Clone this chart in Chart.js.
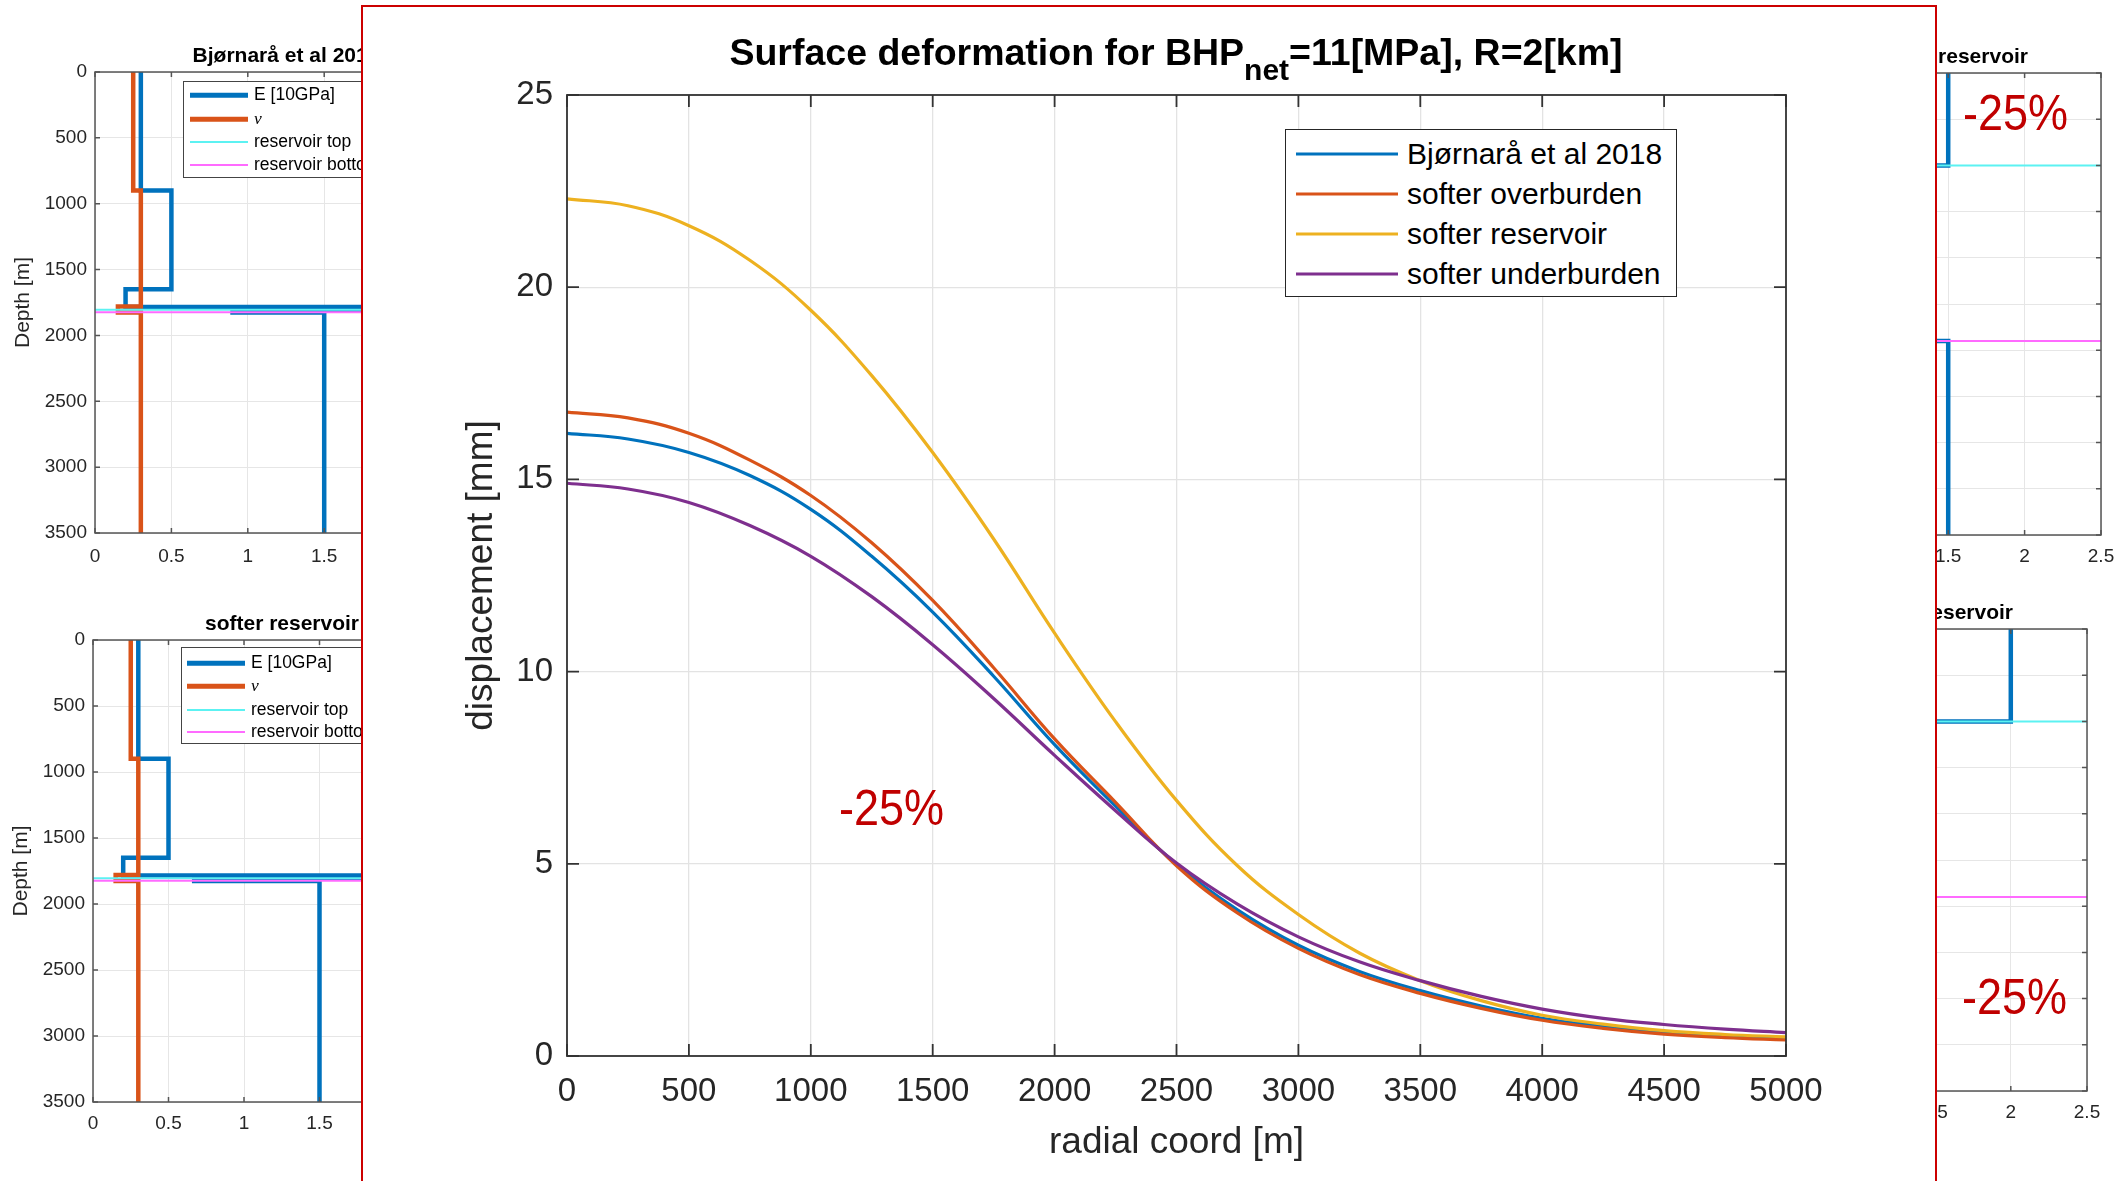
<!DOCTYPE html>
<html>
<head>
<meta charset="utf-8">
<script src="https://cdn.jsdelivr.net/npm/chart.js@4.4.1/dist/chart.umd.min.js"></script>
<style>
html,body{margin:0;padding:0;background:#fff;}
body{width:2128px;height:1181px;position:relative;overflow:hidden;font-family:'Liberation Sans',Arial,Helvetica,sans-serif;}
canvas{display:block;position:absolute;}
.txt{position:absolute;white-space:nowrap;line-height:1;}
.sideTitle{font-weight:bold;font-size:21px;color:#000;}
.sideLegend{position:absolute;background:#fff;border:1.5px solid #444;box-sizing:border-box;}
.row{position:absolute;left:0;height:0;}
.row .smp{position:absolute;transform:translateY(-50%);}
.row .lab{position:absolute;transform:translateY(-50%);white-space:nowrap;line-height:1;color:#000;}
.pct{position:absolute;color:#C00000;font-size:50px;line-height:1;white-space:nowrap;transform:scaleX(0.9);transform-origin:left top;}
#mainBox{position:absolute;left:361px;top:5px;width:1576px;height:1200px;box-sizing:border-box;border:2px solid #CC0000;border-bottom:none;background:#fff;}
#mainTitle{position:absolute;top:34px;left:1176px;transform:translateX(-50%);font-weight:bold;font-size:37.5px;line-height:1;white-space:nowrap;color:#000;}
#mainLegend{position:absolute;left:1285px;top:129px;width:392px;height:168px;background:#fff;border:1.5px solid #262626;box-sizing:border-box;}
</style>
</head>
<body>
<!-- background side charts -->
<canvas id="cTL" width="520" height="540" style="left:0;top:40px"></canvas>
<canvas id="cBL" width="520" height="581" style="left:0;top:600px"></canvas>
<canvas id="cTR" width="478" height="540" style="left:1650px;top:40px"></canvas>
<canvas id="cBR" width="488" height="591" style="left:1640px;top:590px"></canvas>

<div class="txt sideTitle" style="left:286px;top:44px;transform:translateX(-50%)">Bjørnarå et al 2018</div>
<div class="txt sideTitle" style="left:282px;top:612px;transform:translateX(-50%)">softer reservoir</div>
<div class="txt sideTitle" style="right:100px;top:45px">thicker reservoir</div>
<div class="txt sideTitle" style="right:115px;top:601px">softer thicker reservoir</div>

<div id="legTL" class="sideLegend" style="left:183px;top:81px;width:215px;height:97px"></div>
<div id="legBL" class="sideLegend" style="left:181px;top:647px;width:215px;height:97px"></div>

<div class="pct" style="left:1963px;top:88px">-25%</div>
<div class="pct" style="left:1962px;top:972px">-25%</div>

<!-- main chart -->
<div id="mainBox"></div>
<canvas id="cMain" width="1576" height="1176" style="left:361px;top:5px"></canvas>
<div id="mainTitle">Surface deformation for BHP<span style="font-size:30px;position:relative;top:15px">net</span>=11[MPa], R=2[km]</div>
<div id="mainLegend"></div>
<div class="pct" style="left:839px;top:783px">-25%</div>

<script>
// ---------------- main chart data ----------------
const radialCoord = [0,250,500,750,1000,1250,1500,1750,2000,2250,2500,2750,3000,3250,3500,3750,4000,4250,4500,4750,5000];
const bjornara2018     = [16.2,16.05,15.7,15.1,14.22,13.0,11.55,9.88,8.1,6.5,4.98,3.8,2.88,2.2,1.7,1.3,0.98,0.77,0.61,0.52,0.46];
const softerOverburden = [16.75,16.6,16.2,15.5,14.58,13.35,11.85,10.1,8.25,6.6,4.95,3.72,2.8,2.12,1.63,1.24,0.93,0.72,0.57,0.48,0.42];
const softerReservoir  = [22.3,22.12,21.6,20.7,19.4,17.7,15.7,13.45,11.0,8.7,6.65,4.95,3.68,2.68,1.96,1.44,1.06,0.83,0.66,0.56,0.5];
const softerUnderburden= [14.9,14.75,14.4,13.8,13.0,11.95,10.7,9.3,7.82,6.38,5.02,3.95,3.1,2.45,1.96,1.55,1.22,0.98,0.82,0.7,0.61];
const seriesNames  = ['Bjørnarå et al 2018','softer overburden','softer reservoir','softer underburden'];
const seriesColors = ['#0072BD','#D95319','#EDB120','#7E2F8E'];
const mainXTicks = [0,500,1000,1500,2000,2500,3000,3500,4000,4500,5000];
const mainYTicks = [0,5,10,15,20,25];

// ---------------- side chart data ----------------
const eTicks = [0,0.5,1,1.5,2,2.5];
const depthTicks = [0,500,1000,1500,2000,2500,3000,3500];
const zoomDepthTicks = [1795,1800,1805,1810,1815,1820,1825,1830,1835,1840,1845];
const reservoirTop = 1805;
const reservoirBottom = 1824;
// Bjørnarå et al 2018 profile
const baseEDepth  = [0,900,900,1650,1650,1785,1785,1805,1805,1826,1826,3500];
const baseE       = [0.3,0.3,0.5,0.5,0.2,0.2,3.0,3.0,0.9,0.9,1.5,1.5];
const baseNuDepth = [0,900,900,1780,1780,1826,1826,3500];
const baseNu      = [0.25,0.25,0.3,0.3,0.15,0.15,0.3,0.3];
// softer reservoir profile
const softResEDepth = [0,900,900,1650,1650,1785,1785,1805,1805,1826,1826,3500];
const softResE      = [0.3,0.3,0.5,0.5,0.2,0.2,3.0,3.0,0.67,0.67,1.5,1.5];
// zoomed profiles (right column)
const zoomEDepth  = [1795,1805,1805,1824,1824,1845];
const zoomTRE     = [1.5,1.5,0.9,0.9,1.5,1.5];
const zoomBRE     = [2.0,2.0,0.67,0.67,1.2,1.2];
const zoomNuDepth = [1795,1805,1805,1824,1824,1845];
const zoomNu      = [0.3,0.3,0.15,0.15,0.3,0.3];
const sideLegendNames = ['E [10GPa]','ν','reservoir top','reservoir bottom'];
const sideColors = ['#0072BD','#D95319','#5CF2F2','#FF6BFF'];

const FONT = "'Liberation Sans', Arial, Helvetica, sans-serif";
const AXC = '#262626';

// box + inward ticks (MATLAB style)
const boxTicks = {
  id: 'boxTicks',
  afterDatasetsDraw(chart, args, o) {
    const {ctx, chartArea: a} = chart;
    const x = chart.scales.x, y = chart.scales.y;
    const L = o.len || 8;
    ctx.save();
    ctx.strokeStyle = o.color || AXC;
    ctx.lineWidth = o.width || 1.5;
    ctx.beginPath();
    x.ticks.forEach(t => {
      const p = x.getPixelForValue(t.value);
      ctx.moveTo(p, a.bottom); ctx.lineTo(p, a.bottom - L);
      ctx.moveTo(p, a.top); ctx.lineTo(p, a.top + L);
    });
    y.ticks.forEach(t => {
      const p = y.getPixelForValue(t.value);
      ctx.moveTo(a.left, p); ctx.lineTo(a.left + L, p);
      ctx.moveTo(a.right, p); ctx.lineTo(a.right - L, p);
    });
    ctx.stroke();
    ctx.strokeRect(a.left, a.top, a.right - a.left, a.bottom - a.top);
    ctx.restore();
  }
};

function pts(xs, ys) { return xs.map((v, i) => ({x: v, y: ys[i]})); }
function setTicks(arr) { return s => { s.ticks = arr.map(v => ({value: v})); }; }

// ---------------- main chart ----------------
const mainSeries = [bjornara2018, softerOverburden, softerReservoir, softerUnderburden];
new Chart(document.getElementById('cMain'), {
  type: 'line',
  data: {
    datasets: mainSeries.map((s, i) => ({
      label: seriesNames[i],
      data: pts(radialCoord, s),
      borderColor: seriesColors[i],
      borderWidth: 3.2,
      pointRadius: 0,
      fill: false,
      tension: 0.4,
      order: 4 - i
    }))
  },
  options: {
    responsive: false, animation: false, devicePixelRatio: 1,
    layout: {padding: {top: 90, right: 151, bottom: 0, left: 0}},
    plugins: {legend: {display: false}, tooltip: {enabled: false}, boxTicks: {len: 12, color: '#333', width: 1.8}},
    scales: {
      x: {
        type: 'linear', min: 0, max: 5000,
        afterBuildTicks: setTicks(mainXTicks),
        afterFit: s => { s.height = 125; s.paddingLeft = 0; s.paddingRight = 0; },
        grid: {color: '#e3e3e3', lineWidth: 1.3, drawTicks: false},
        border: {display: false},
        ticks: {font: {family: FONT, size: 33}, color: AXC, padding: 16, maxRotation: 0, autoSkip: false, callback: v => String(v)},
        title: {display: true, text: 'radial coord [m]', font: {family: FONT, size: 37}, color: AXC, padding: {top: 0, bottom: 16}}
      },
      y: {
        type: 'linear', min: 0, max: 25,
        afterBuildTicks: setTicks(mainYTicks),
        afterFit: s => { s.width = 206; s.paddingTop = 0; s.paddingBottom = 0; },
        grid: {color: '#e3e3e3', lineWidth: 1.3, drawTicks: false},
        border: {display: false},
        ticks: {font: {family: FONT, size: 33}, color: AXC, padding: 14, autoSkip: false, callback: v => String(v)},
        title: {display: true, text: 'displacement [mm]', font: {family: FONT, size: 37}, color: AXC, padding: {top: 99, bottom: 0}}
      }
    }
  },
  plugins: [boxTicks]
});

// main legend (HTML, from the series arrays)
(function(){
  const leg = document.getElementById('mainLegend');
  const rowsY = [24, 64, 104, 144];
  seriesNames.forEach((n, i) => {
    const r = document.createElement('div');
    r.className = 'row'; r.style.top = rowsY[i] + 'px';
    r.innerHTML = '<div class="smp" style="left:10px;width:102px;height:3px;background:' + seriesColors[i] + '"></div>' +
                  '<div class="lab" style="left:121px;font-size:30px;color:#000">' + n + '</div>';
    leg.appendChild(r);
  });
})();

// ---------------- side charts ----------------
function sideChart(id, cfg) {
  const ds = [
    {data: pts(cfg.eX, cfg.eY), borderColor: sideColors[0], borderWidth: 4.5, order: 4},
    {data: pts(cfg.nuX, cfg.nuY), borderColor: sideColors[1], borderWidth: 4.5, order: 3},
    {data: pts([0, 2.5], [reservoirTop, reservoirTop]), borderColor: sideColors[2], borderWidth: 2, order: 2},
    {data: pts([0, 2.5], [reservoirBottom, reservoirBottom]), borderColor: sideColors[3], borderWidth: 2, order: 1}
  ].map(d => Object.assign(d, {showLine: true, pointRadius: 0, fill: false, tension: 0, borderJoinStyle: 'miter', borderCapStyle: 'butt'}));
  new Chart(document.getElementById(id), {
    type: 'scatter',
    data: {datasets: ds},
    options: {
      responsive: false, animation: false, devicePixelRatio: 1,
      layout: {padding: {top: cfg.padTop, right: cfg.padRight, bottom: 0, left: 0}},
      plugins: {legend: {display: false}, tooltip: {enabled: false}, boxTicks: {len: 5, color: '#555', width: 1.5}},
      scales: {
        x: {
          type: 'linear', min: 0, max: 2.5,
          afterBuildTicks: setTicks(eTicks),
          afterFit: s => { s.height = cfg.xH; s.paddingLeft = 0; s.paddingRight = 0; },
          grid: {color: '#e6e6e6', lineWidth: 1, drawTicks: false},
          border: {display: false},
          ticks: {font: {family: FONT, size: 19}, color: AXC, padding: cfg.xPad, maxRotation: 0, autoSkip: false, callback: v => String(v)}
        },
        y: {
          type: 'linear', min: cfg.yMin, max: cfg.yMax, reverse: true,
          afterBuildTicks: setTicks(cfg.yTicks),
          afterFit: s => { s.width = cfg.yW; s.paddingTop = 0; s.paddingBottom = 0; },
          grid: {color: '#e6e6e6', lineWidth: 1, drawTicks: false},
          border: {display: false},
          ticks: {font: {family: FONT, size: 19}, color: AXC, padding: 8, autoSkip: false, callback: v => String(v)},
          title: {display: true, text: 'Depth [m]', font: {family: FONT, size: 21}, color: AXC, padding: {top: cfg.tPad, bottom: 0}}
        }
      }
    },
    plugins: [boxTicks]
  });
}

sideChart('cTL', {eX: baseE, eY: baseEDepth, nuX: baseNu, nuY: baseNuDepth, yMin: 0, yMax: 3500, yTicks: depthTicks,
  padTop: 32, padRight: 43, xH: 47, yW: 95, xPad: 12, tPad: 11});
sideChart('cBL', {eX: softResE, eY: softResEDepth, nuX: baseNu, nuY: baseNuDepth, yMin: 0, yMax: 3500, yTicks: depthTicks,
  padTop: 40, padRight: 49.5, xH: 79, yW: 93, xPad: 10, tPad: 9});
sideChart('cTR', {eX: zoomTRE, eY: zoomEDepth, nuX: zoomNu, nuY: zoomNuDepth, yMin: 1795, yMax: 1845, yTicks: zoomDepthTicks,
  padTop: 33, padRight: 27, xH: 45, yW: 69, xPad: 10, tPad: 2});
sideChart('cBR', {eX: zoomBRE, eY: zoomEDepth, nuX: zoomNu, nuY: zoomNuDepth, yMin: 1795, yMax: 1845, yTicks: zoomDepthTicks,
  padTop: 39, padRight: 41, xH: 90, yW: 66, xPad: 10, tPad: 2});

// side legends
function sideLegend(id, rowsY, lineL, textL) {
  const leg = document.getElementById(id);
  const widths = [4.5, 4.5, 2, 2];
  sideLegendNames.forEach((n, i) => {
    const r = document.createElement('div');
    r.className = 'row'; r.style.top = rowsY[i] + 'px';
    const label = (i === 1) ? '<i style="font-family:\'Liberation Serif\',serif">' + n + '</i>' : n;
    r.innerHTML = '<div class="smp" style="left:' + lineL + 'px;width:58px;height:' + widths[i] + 'px;background:' + sideColors[i] + '"></div>' +
                  '<div class="lab" style="left:' + textL + 'px;font-size:17.5px">' + label + '</div>';
    leg.appendChild(r);
  });
}
sideLegend('legTL', [13, 37, 60, 83], 6, 70);
sideLegend('legBL', [15, 38, 62, 84], 5, 69);
</script>
</body>
</html>
